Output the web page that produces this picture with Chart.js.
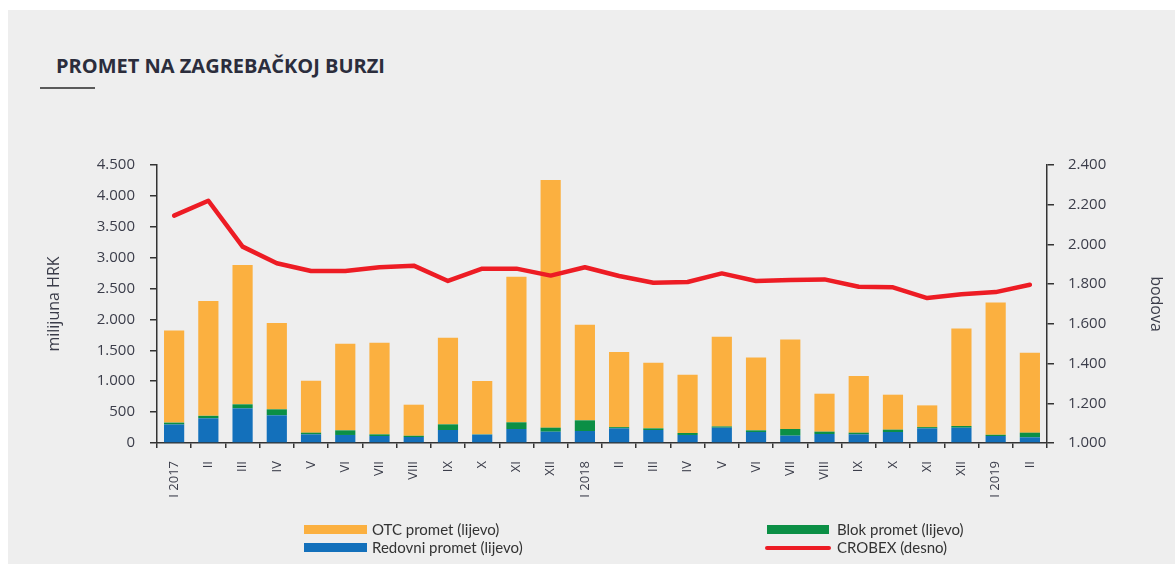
<!DOCTYPE html>
<html>
<head>
<meta charset="utf-8">
<script src="https://cdn.jsdelivr.net/npm/chart.js@4/dist/chart.umd.min.js"></script>
<style>
  html, body { margin: 0; padding: 0; background: #ffffff; }
  #page { position: relative; width: 1175px; height: 564px; overflow: hidden; }
  #panel { position: absolute; left: 8px; top: 10px; right: 0; bottom: 0; background: #eeeeee; }
  #chart { position: absolute; left: 0; top: 0; }
  #title {
    position: absolute; left: 56px; top: 52px;
    font: 700 20px "Open Sans", sans-serif; color: #2b2d3c; white-space: nowrap;
  }
  #rule { position: absolute; left: 40px; top: 87px; width: 55px; height: 2px; background: #5a5a5a; }
  .sw { position: absolute; }
  .lg {
    position: absolute; font: 15px Lato, sans-serif; color: #333;
    line-height: 18px; white-space: nowrap;
  }
</style>
</head>
<body>
<div id="page">
  <div id="panel"></div>
  <div id="title">PROMET NA ZAGREBAČKOJ BURZI</div>
  <div id="rule"></div>
  <canvas id="chart" width="1175" height="564"></canvas>

  <div class="sw" style="left:304px;top:525px;width:63px;height:9px;background:#fbb040"></div>
  <div class="lg" style="left:372px;top:520px">OTC promet (lijevo)</div>
  <div class="sw" style="left:304px;top:543px;width:63px;height:9px;background:#1370bb"></div>
  <div class="lg" style="left:372px;top:538px">Redovni promet (lijevo)</div>
  <div class="sw" style="left:767px;top:525px;width:62px;height:9px;background:#0b8f45"></div>
  <div class="lg" style="left:837px;top:520px">Blok promet (lijevo)</div>
  <div class="sw" style="left:765px;top:546px;width:66px;height:4px;border-radius:2px;background:#ed1c24"></div>
  <div class="lg" style="left:837px;top:538px">CROBEX (desno)</div>
</div>

<script>
// Months, Jan 2017 - Feb 2019
const months = ['I 2017', 'II', 'III', 'IV', 'V', 'VI', 'VII', 'VIII', 'IX', 'X', 'XI', 'XII',
                'I 2018', 'II', 'III', 'IV', 'V', 'VI', 'VII', 'VIII', 'IX', 'X', 'XI', 'XII',
                'I 2019', 'II'];

// turnover, million HRK (left axis)
const redovni = [300, 400, 561, 448, 140, 130, 113, 97, 210, 135, 227, 183,
                 194, 237, 210, 130, 248, 178, 119, 146, 140, 178, 237, 248, 113, 92];
const blok = [30, 40, 65, 97, 27, 75, 27, 20, 92, 5, 108, 65,
              173, 20, 27, 32, 20, 27, 108, 38, 27, 38, 20, 27, 20, 75];
const otc = [1490, 1860, 2254, 1397, 842, 1402, 1484, 503, 1402, 863, 2356, 4008,
             1548, 1215, 1063, 944, 1453, 1181, 1450, 614, 917, 566, 352, 1580, 2143, 1295];

// CROBEX index points (right axis)
const crobex = [2145, 2220, 1989, 1905, 1866, 1866, 1885, 1893, 1816, 1878, 1878, 1843,
                1885, 1841, 1807, 1811, 1854, 1816, 1821, 1824, 1787, 1784, 1730, 1749, 1760, 1797];

const axisColor = '#333333';
const textColor = '#3b3d4a';

// 4500 -> 4.500
const fmt = v => String(v).replace(/\B(?=(\d{3})+(?!\d))/g, '.');

const ctx = document.getElementById('chart').getContext('2d');
new Chart(ctx, {
    type: 'bar',
    data: {
        labels: months,
        datasets: [
            { label: 'Redovni promet (lijevo)', data: redovni, backgroundColor: '#1370bb', yAxisID: 'y', order: 1 },
            { label: 'Blok promet (lijevo)', data: blok, backgroundColor: '#0b8f45', yAxisID: 'y', order: 1 },
            { label: 'OTC promet (lijevo)', data: otc, backgroundColor: '#fbb040', yAxisID: 'y', order: 1 },
            {
                type: 'line', label: 'CROBEX (desno)', data: crobex, yAxisID: 'y1', order: 0,
                borderColor: '#ed1c24', borderWidth: 4.5, pointRadius: 0, tension: 0,
                borderJoinStyle: 'round', borderCapStyle: 'round', fill: false
            }
        ]
    },
    options: {
        responsive: false,
        animation: false,
        devicePixelRatio: 1,
        datasets: { bar: { barPercentage: 1, categoryPercentage: 0.59 } },
        layout: { padding: { left: 40, right: 0, top: 165, bottom: 0 } },
        plugins: { legend: { display: false }, tooltip: { enabled: false } },
        scales: {
            x: {
                stacked: true,
                afterFit: s => { s.height = 121; },
                border: { display: true, color: axisColor, width: 1.5 },
                grid: { offset: true, drawOnChartArea: false, drawTicks: true, tickLength: 5, color: axisColor, lineWidth: 1.5 },
                ticks: {
                    autoSkip: false, minRotation: 90, maxRotation: 90, padding: 13,
                    color: textColor, font: { family: 'Open Sans', size: 13 }
                }
            },
            y: {
                stacked: true, position: 'left', min: 0, max: 4500,
                afterFit: s => { s.width = 117; },
                border: { display: true, color: axisColor, width: 1.5 },
                grid: { drawOnChartArea: false, tickLength: 7, color: axisColor, lineWidth: 1.5 },
                ticks: {
                    stepSize: 500, padding: 15, color: textColor,
                    font: { family: 'Open Sans', size: 15 }, callback: v => fmt(v)
                },
                title: {
                    display: true, text: 'milijuna HRK', color: textColor,
                    font: { family: 'Open Sans', size: 16 }, padding: { top: 5, bottom: 0 }
                }
            },
            y1: {
                position: 'right', min: 1000, max: 2400,
                afterFit: s => { s.width = 128; },
                border: { display: true, color: axisColor, width: 1.5 },
                grid: { drawOnChartArea: false, tickLength: 7, color: axisColor, lineWidth: 1.5 },
                ticks: {
                    stepSize: 200, padding: 14, color: textColor,
                    font: { family: 'Open Sans', size: 15 }, callback: v => fmt(v)
                },
                title: {
                    display: true, text: 'bodova', color: textColor,
                    font: { family: 'Open Sans', size: 16 }, padding: { top: 10, bottom: 0 }
                }
            }
        }
    }
});
</script>
</body>
</html>
